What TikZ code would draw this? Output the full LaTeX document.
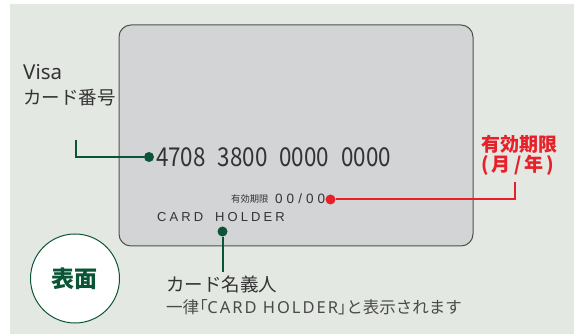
\documentclass[tikz,border=0pt]{standalone}
\usepackage{fontspec}
\setmainfont{Noto Sans CJK JP}
\newfontfamily\jp{Noto Sans CJK JP}
\newfontfamily\jppalt[RawFeature=+palt]{Noto Sans CJK JP}
\newfontfamily\lat{Noto Sans}
\newfontfamily\latspaced[LetterSpace=12]{Noto Sans}
\newfontfamily\cardspaced[LetterSpace=24]{Liberation Sans}
\newfontfamily\datespaced[LetterSpace=30]{Liberation Sans}
\definecolor{bgc}{HTML}{E4E8E3}
\definecolor{cardfill}{HTML}{D3D4D6}
\definecolor{cardline}{HTML}{505050}
\definecolor{gr}{HTML}{0B5536}
\definecolor{rd}{HTML}{E8202A}
\definecolor{tx}{HTML}{333333}
\definecolor{tx2}{HTML}{4A4A4A}
\tikzset{
  gline/.style={draw=gr, line width=2pt},
  rline/.style={draw=rd, line width=2pt},
  gdot/.style={circle, fill=gr, inner sep=0pt, minimum size=10pt},
  rdot/.style={circle, fill=rd, inner sep=0pt, minimum size=10pt},
  lbl/.style={inner sep=0pt, text=tx, font=\jp\fontsize{18.5}{25}\selectfont, align=left},
}
\begin{document}
\begin{tikzpicture}[x=1pt,y=-1pt]
\useasboundingbox (0,0) rectangle (574,334);
\fill[white] (0,0) rectangle (574,334);
\fill[bgc] (10,4) rectangle (574,334);
% card
\draw[rounded corners=12pt, fill=cardfill, draw=cardline, line width=1pt] (119,25) rectangle (473,246);
% card number
\node[anchor=base west, inner sep=0pt, text=tx, xscale=0.86, font=\jp\fontsize{26}{26}\selectfont] (num) at (156,166.5)
  {4708\hspace{14pt}3800\hspace{14pt}0000\hspace{14pt}0000};
\node[gdot] (ndot) at (149,157) {};
\coordinate (vtop) at (75.5,140);
\draw[gline] (vtop) |- (ndot);
\node[lbl, anchor=base west] (visa) at (23,105) {{\lat\fontsize{20.5}{25}\selectfont Visa}\\カード番号};
% expiry
\node[anchor=base west, inner sep=0pt, text=tx, font=\jp\fontsize{9.3}{10}\selectfont] (exlbl) at (231,203) {有効期限};
\node[anchor=base west, inner sep=0pt, text=tx, font=\datespaced\fontsize{13.5}{14}\selectfont] (exdate) at (275,204) {00/00};
\node[rdot] (rdot0) at (330.5,199.5) {};
\coordinate (rtop) at (515,182.5);
\draw[rline] (rdot0) -| (rtop);
\node[anchor=north west, inner sep=0pt, text=rd, font=\jp\bfseries\fontsize{19}{20}\selectfont, align=left] (rlbl) at (481,135) {有効期限\\(\,月\,/\,年\,)};
% holder
\node[anchor=base west, inner sep=0pt, text=tx, font=\cardspaced\fontsize{13}{14}\selectfont] (holder) at (157,222) {CARD\hspace{5pt} HOLDER};
\node[gdot] (hdot) at (222.5,231.5) {};
\coordinate (hbot) at (222.5,272.5);
\draw[gline] (hdot) -- (hbot);
\node[lbl, anchor=base west] (hname) at (166,292) {カード名義人};
\node[anchor=base west, inner sep=0pt, text=tx2, font=\jp\fontsize{16.5}{18}\selectfont] (hnote) at (166,314)
  {一律{\jppalt 「}{\latspaced CARD HOLDER}{\jppalt 」}と表示されます};
% badge
\node[circle, draw=gr, fill=white, line width=1pt, minimum size=89pt, inner sep=0pt, text=gr, font=\jp\bfseries\fontsize{23}{23}\selectfont] (face) at (75,278.5) {表面};
\end{tikzpicture}
\end{document}
